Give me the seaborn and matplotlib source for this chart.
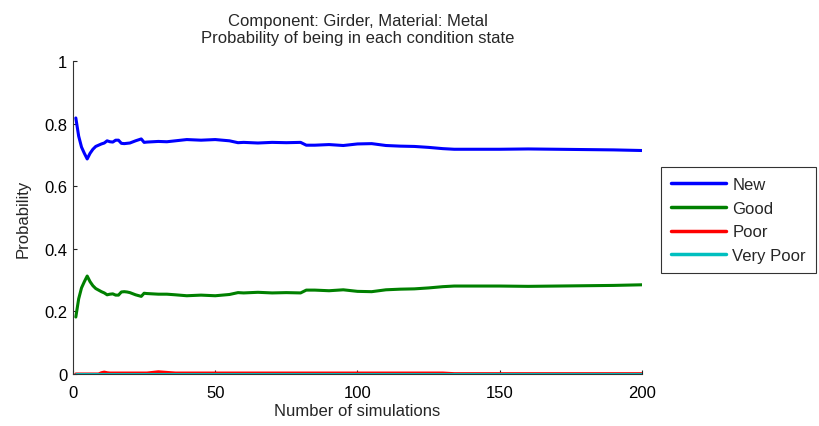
import matplotlib
matplotlib.use("Agg")
import matplotlib.pyplot as plt
import seaborn as sns
import pandas as pd

# Simulation counts at which the condition-state probabilities were recorded
sims = [1, 2, 3, 4, 5, 6, 7, 8, 9, 10, 11, 12, 13, 14, 15, 16, 17, 18, 19, 20,
        22, 24, 25, 26, 28, 30, 33, 36, 40, 45, 50, 55, 58, 60, 65, 70, 75, 80,
        82, 85, 90, 95, 100, 105, 110, 115, 120, 125, 130, 134, 140, 150, 160,
        170, 180, 190, 200]

p_new = [0.818, 0.760, 0.725, 0.705, 0.687, 0.705, 0.718, 0.727, 0.731, 0.735,
         0.738, 0.745, 0.742, 0.741, 0.747, 0.747, 0.737, 0.736, 0.737, 0.738,
         0.745, 0.751, 0.740, 0.741, 0.742, 0.743, 0.742, 0.745, 0.749, 0.747,
         0.749, 0.745, 0.739, 0.740, 0.738, 0.740, 0.739, 0.740, 0.731, 0.731,
         0.733, 0.730, 0.735, 0.736, 0.730, 0.728, 0.727, 0.724, 0.720, 0.718,
         0.718, 0.718, 0.719, 0.718, 0.717, 0.716, 0.714]

p_good = [0.182, 0.240, 0.275, 0.295, 0.313, 0.295, 0.282, 0.273, 0.268, 0.263,
          0.259, 0.253, 0.255, 0.256, 0.252, 0.252, 0.262, 0.263, 0.262, 0.260,
          0.253, 0.248, 0.258, 0.257, 0.256, 0.255, 0.255, 0.253, 0.250, 0.252,
          0.250, 0.254, 0.260, 0.259, 0.261, 0.259, 0.260, 0.259, 0.268, 0.268,
          0.266, 0.269, 0.264, 0.263, 0.269, 0.271, 0.272, 0.275, 0.279, 0.281,
          0.281, 0.281, 0.280, 0.281, 0.282, 0.283, 0.285]

p_poor = [0.0, 0.0, 0.0, 0.0, 0.0, 0.0, 0.0, 0.0, 0.0, 0.004,
          0.006, 0.004, 0.003, 0.003, 0.003, 0.003, 0.003, 0.003, 0.003, 0.003,
          0.003, 0.003, 0.003, 0.003, 0.005, 0.007, 0.005, 0.003, 0.003, 0.003,
          0.003, 0.003, 0.003, 0.003, 0.003, 0.003, 0.003, 0.003, 0.003, 0.003,
          0.003, 0.003, 0.003, 0.003, 0.003, 0.003, 0.003, 0.003, 0.003, 0.001,
          0.001, 0.001, 0.001, 0.001, 0.001, 0.001, 0.001]

p_very_poor = [0.0] * len(sims)

states = ["New", "Good", "Poor", "Very Poor"]
state_colors = ["#0000ff", "#008000", "#ff0000", "#00bfbf"]

x_ticks = [0, 50, 100, 150, 200]
y_ticks = [0, 0.2, 0.4, 0.6, 0.8, 1]
y_tick_labels = ["0", "0.2", "0.4", "0.6", "0.8", "1"]

frames = []
for name, vals in zip(states, [p_new, p_good, p_poor, p_very_poor]):
    frames.append(pd.DataFrame({"Simulations": sims, "Probability": vals, "State": name}))
df = pd.concat(frames, ignore_index=True)

sns.set_style("white")
plt.rcParams["font.family"] = ["Liberation Sans", "DejaVu Sans"]
plt.rcParams["font.size"] = 12

fig = plt.figure(figsize=(8.19, 4.27), dpi=100)
ax = fig.add_axes([0.0891, 0.1218, 0.6948, 0.7330])

sns.lineplot(data=df, x="Simulations", y="Probability", hue="State",
             hue_order=states, palette=state_colors, linewidth=2.2, ax=ax,
             legend=True)

ax.set_xlim(0, 200)
ax.set_ylim(0, 1)
ax.set_xticks(x_ticks)
ax.set_yticks(y_ticks)
ax.set_yticklabels(y_tick_labels)
ax.tick_params(direction="in", length=3, width=0.8, colors="#222222",
               labelcolor="black", labelsize=12, bottom=True, left=True)
ax.tick_params(axis="x", pad=8)
ax.tick_params(axis="y", pad=4)
for side in ["top", "right"]:
    ax.spines[side].set_visible(False)
for side in ["left", "bottom"]:
    ax.spines[side].set_color("#333333")
    ax.spines[side].set_linewidth(0.8)

ax.set_xlabel("Number of simulations", fontsize=12, labelpad=2)
ax.set_ylabel("Probability", fontsize=12, labelpad=10)
ax.set_title("Component: Girder, Material: Metal\nProbability of being in each condition state",
             fontsize=12, pad=14, linespacing=1.1)

handles, labels = ax.get_legend_handles_labels()
leg = ax.legend(handles, labels, loc="upper left", bbox_to_anchor=(1.033, 0.661),
                borderaxespad=0, frameon=True, fancybox=False, fontsize=12,
                handlelength=3.3, handletextpad=0.4, labelspacing=0.52,
                borderpad=0.6)
leg.get_frame().set_edgecolor("black")
leg.get_frame().set_linewidth(0.8)
for line in leg.get_lines():
    line.set_linewidth(2.5)

fig.savefig("out.png", dpi=100, facecolor="white")
